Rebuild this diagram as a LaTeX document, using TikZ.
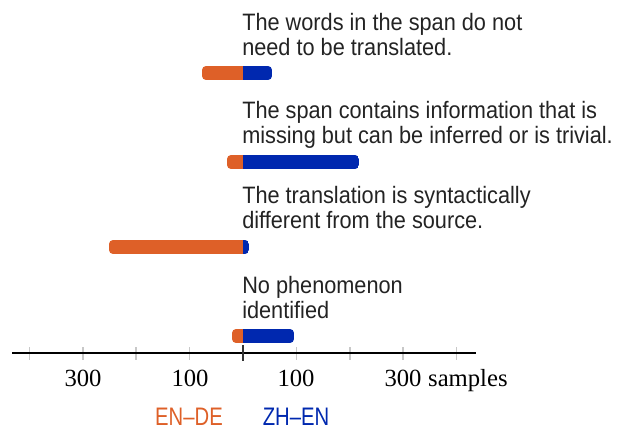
\documentclass[tikz,border=0pt]{standalone}
\usepackage{fontspec}
\setmainfont{Liberation Serif}
\setsansfont[FakeStretch=0.915]{Liberation Sans}
\newfontfamily\langfont[FakeStretch=0.8]{Liberation Sans}
\usetikzlibrary{positioning}
\definecolor{endeorange}{RGB}{222,96,40}
\definecolor{zhenblue}{RGB}{0,40,175}
\definecolor{labelgray}{RGB}{35,35,35}
\definecolor{tickgray}{RGB}{200,200,200}
\tikzset{
x=0.75pt, y=-0.75pt, % one unit is one pixel of the figure, y grows downward
category/.style={anchor=base west, inner sep=0pt, align=left, text=labelgray, font=\sffamily\fontsize{17.8}{18.75}\selectfont}, % phenomenon descriptions, placed by their last line
count/.style={anchor=base, inner sep=0pt, font=\fontsize{18.5}{20}\selectfont}, % numbers under the axis
language/.style={anchor=base, inner sep=0pt, font=\langfont\fontsize{19}{20}\selectfont}, % legend entries
minortick/.style={draw=tickgray, line width=1.1pt},
}
% #1 = centre y, #2 = left end (EN-DE), #3 = right end (ZH-EN)
\newcommand{\splitbar}[3]{%
  \begin{scope}
    \clip[rounded corners=3pt] (#2,#1-7) rectangle (#3,#1+7);
    \fill[endeorange] (#2,#1-7) rectangle (243,#1+7);
    \fill[zhenblue] (243,#1-7) rectangle (#3,#1+7);
  \end{scope}}

\begin{document}
\begin{tikzpicture}
      \useasboundingbox (0,0) rectangle (633,429);

      \node[category] (untranslated) at (242,55) {The words in the span do not\\need to be translated.};
      \node[category] (inferred) at (242,143) {The span contains information that is\\missing but can be inferred or is trivial.};
      \node[category] (syntactic) at (242,228) {The translation is syntactically\\different from the source.};
      \node[category] (none) at (242,318.5) {No phenomenon\\identified};

      \splitbar{73}{202}{272}
      \splitbar{162}{227}{359}
      \splitbar{247}{109}{249}
      \splitbar{336}{232}{294}

      \coordinate (axl) at (12,353);
      \coordinate (axr) at (476,353);
      \foreach \k in {-4,-3,-2,-1,1,2,3,4}
        \draw[minortick] (243+53.4*\k,347) -- (243+53.4*\k,360);
      \draw[line width=1.1pt] (axl) -- (axr);
      \draw[line width=1.5pt, black!80] (243,345) -- (243,361);

      \node[count] (cl3) at (83,386) {300};
      \node[count] (cl1) at (190,386) {100};
      \node[count] (cr1) at (296,386) {100};
      \node[count] (cr3) at (403,386) {300};
      \node[count, anchor=base west] (unit) at ([xshift=4.6pt]cr3.base east) {samples};

      \node[language, text=endeorange] (ende) at (189,425.5) {EN–DE};
      \node[language, text=zhenblue] (zhen) at (296,425.5) {ZH–EN};
\end{tikzpicture}
\end{document}
